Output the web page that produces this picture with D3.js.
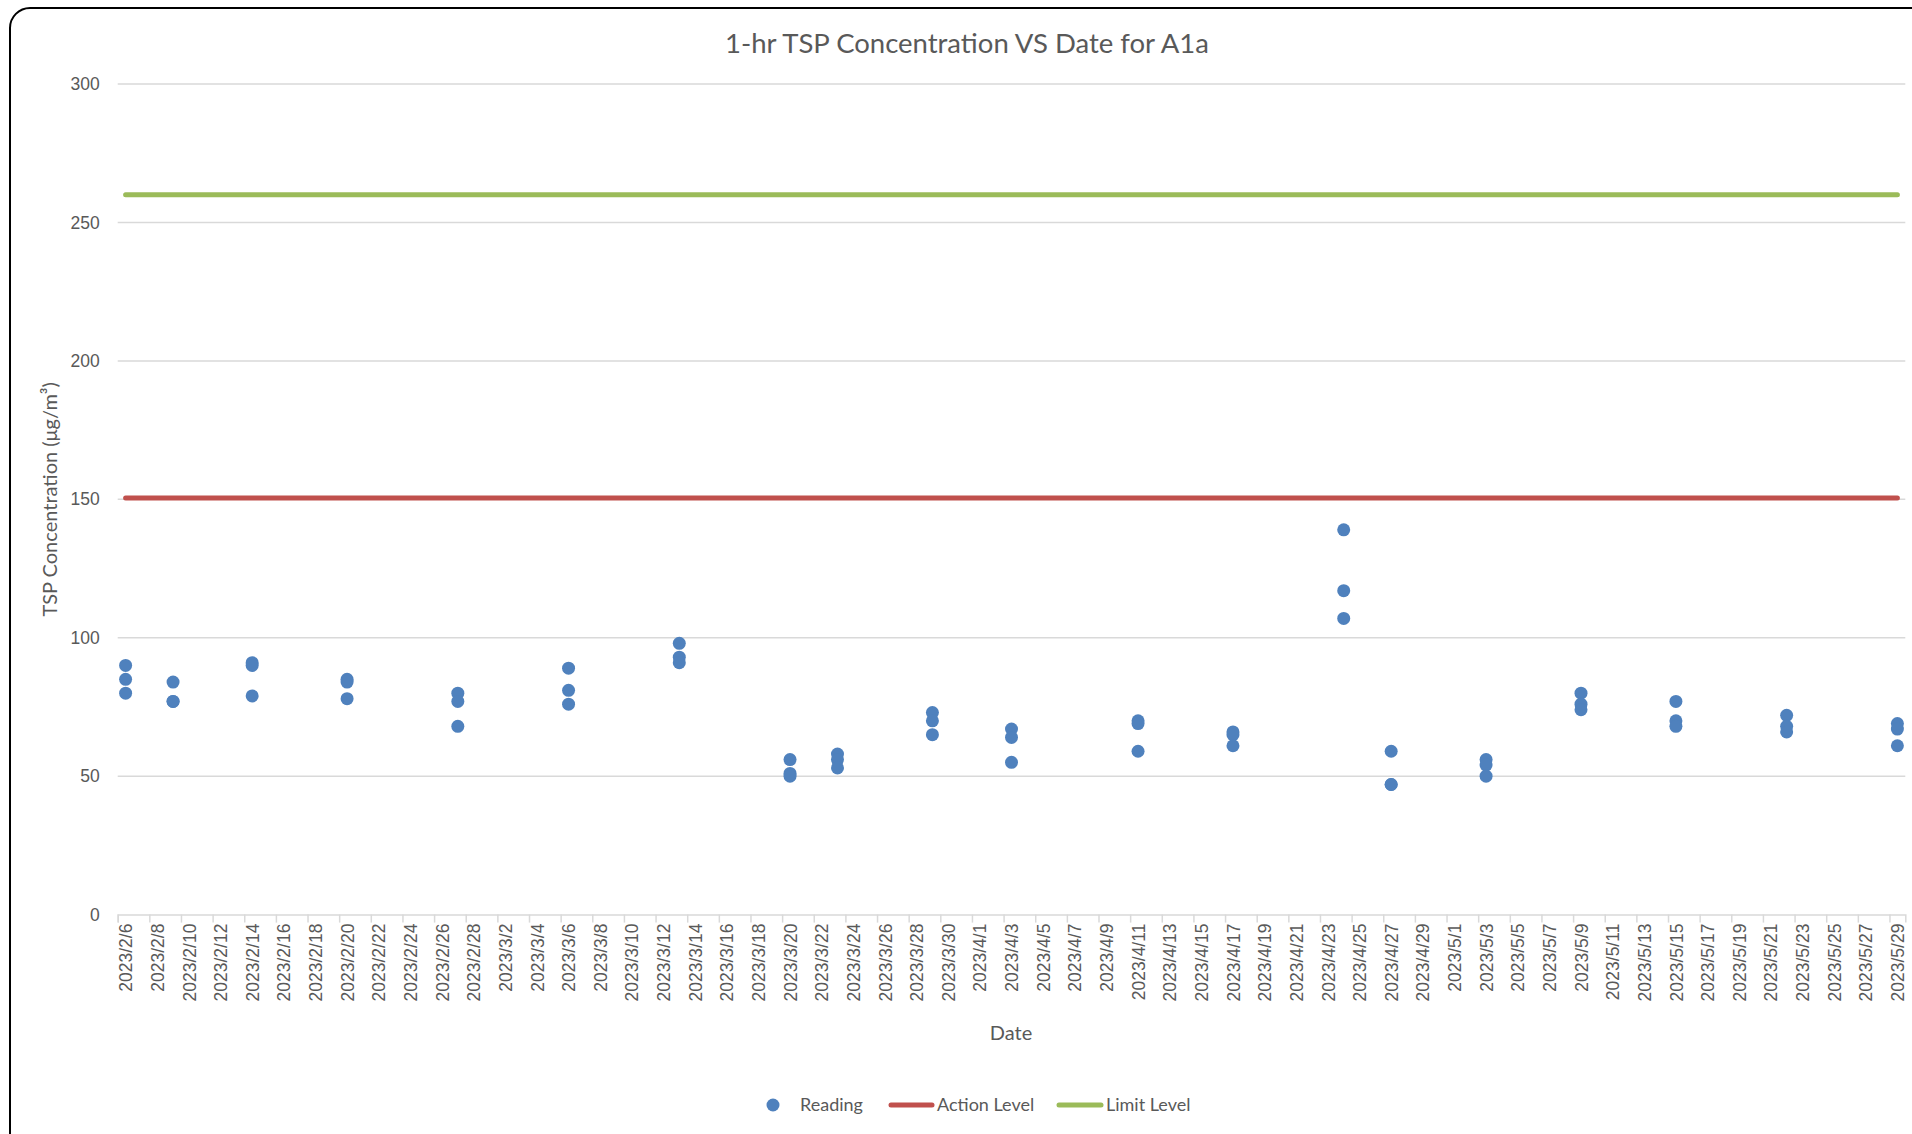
<!DOCTYPE html>
<html>
<head>
<meta charset="utf-8">
<script src="https://cdn.jsdelivr.net/npm/d3@7"></script>
<style>
  body { margin: 0; background: #fff; }
  svg { display: block; font-family: Lato, "Open Sans", sans-serif; }
</style>
</head>
<body>
<svg id="chart" width="1912" height="1134"></svg>
<script>
// sampling days and the three 1-hr readings taken on each
var sampleDates = ["2023/2/6", "2023/2/9", "2023/2/14", "2023/2/20", "2023/2/27", "2023/3/6", "2023/3/13",
	"2023/3/20", "2023/3/23", "2023/3/29", "2023/4/3", "2023/4/11", "2023/4/17", "2023/4/24",
	"2023/4/27", "2023/5/3", "2023/5/9", "2023/5/15", "2023/5/22", "2023/5/29"];
var readingA = [90, 84, 91, 85, 80, 89, 98, 56, 58, 73, 67, 70, 66, 139, 59, 56, 80, 77, 72, 69];
var readingB = [85, 77, 90, 84, 77, 81, 93, 51, 56, 70, 64, 69, 65, 117, 47, 54, 76, 70, 68, 67];
var readingC = [80, 77, 79, 78, 68, 76, 91, 50, 53, 65, 55, 59, 61, 107, 47, 50, 74, 68, 66, 61];

var actionLevel = 150.5;
var limitLevel = 260;

var yTicks = [0, 50, 100, 150, 200, 250, 300];
var axisStart = "2023/2/6";
var axisEnd = "2023/5/30";

var svg = d3.select("#chart");
var parse = d3.timeParse("%Y/%m/%d");
var fmt = d3.timeFormat("%Y/%-m/%-d");

// note: "top" is a read-only global, so keep these names distinct
var plotLeft = 117.7, plotRight = 1905.3, plotTop = 84.1, plotBottom = 914.6;
var textColor = "#595959";

var x = d3.scaleTime()
	.domain([parse(axisStart), parse(axisEnd)])
	.range([plotLeft, plotRight]);
var y = d3.scaleLinear()
	.domain([0, 300])
	.range([plotBottom, plotTop]);

// points sit in the middle of their day slot
function mid(d) {
	return x(d3.timeHour.offset(d, 12));
}
var halfDay = (x(parse("2023/2/7")) - x(parse("2023/2/6"))) / 2;

// card border
svg.append("rect")
	.attr("x", 10).attr("y", 8)
	.attr("width", 1925).attr("height", 1160)
	.attr("rx", 20)
	.attr("fill", "#fff")
	.attr("stroke", "#000")
	.attr("stroke-width", 2);

// title
svg.append("text")
	.attr("x", 967).attr("y", 53)
	.attr("text-anchor", "middle")
	.attr("fill", textColor)
	.style("font-size", "27.5px")
	.text("1-hr TSP Concentration VS Date for A1a");

// gridlines
svg.append("g")
	.selectAll("line")
	.data(yTicks.filter(function(d) { return d > 0; }))
	.enter().append("line")
	.attr("x1", plotLeft).attr("x2", plotRight)
	.attr("y1", function(d) { return y(d); })
	.attr("y2", function(d) { return y(d); })
	.attr("stroke", "#d9d9d9")
	.attr("stroke-width", 1.5);

// y axis labels
var yAxis = svg.append("g")
	.attr("transform", "translate(" + plotLeft + ",0)")
	.call(d3.axisLeft(y).tickValues(yTicks).tickSize(0).tickPadding(18));
yAxis.select(".domain").remove();
yAxis.selectAll("text")
	.attr("fill", textColor)
	.style("font-size", "17.5px");

// x axis, tick every 2 days
var xTicks = d3.timeDay.range(parse(axisStart), parse(axisEnd), 2);
var xAxis = svg.append("g")
	.attr("transform", "translate(0," + plotBottom + ")")
	.call(d3.axisBottom(x).tickValues(xTicks).tickSize(8).tickFormat(fmt));
xAxis.select(".domain")
	.attr("stroke", "#d9d9d9")
	.attr("stroke-width", 1.5);
xAxis.selectAll(".tick line")
	.attr("stroke", "#d9d9d9")
	.attr("stroke-width", 1.5);
xAxis.selectAll(".tick text")
	.attr("fill", textColor)
	.style("font-size", "17.5px")
	.attr("text-anchor", "end")
	.attr("y", 0)
	.attr("dy", "0.35em")
	.attr("transform", "translate(" + halfDay + ",9) rotate(-90)");

// axis titles
svg.append("text")
	.attr("x", 1011).attr("y", 1040)
	.attr("text-anchor", "middle")
	.attr("fill", textColor)
	.style("font-size", "20px")
	.text("Date");

svg.append("text")
	.attr("transform", "translate(57," + ((plotTop + plotBottom) / 2) + ") rotate(-90)")
	.attr("text-anchor", "middle")
	.attr("fill", textColor)
	.style("font-size", "20px")
	.text("TSP Concentration (μg/m³)");

// level lines
var span = d3.extent(sampleDates, parse);
var levels = [
	{ value: limitLevel, color: "#9bbb59" },
	{ value: actionLevel, color: "#c0504d" }
];
svg.append("g")
	.selectAll("line")
	.data(levels)
	.enter().append("line")
	.attr("x1", mid(span[0]))
	.attr("x2", mid(span[1]))
	.attr("y1", function(d) { return y(d.value); })
	.attr("y2", function(d) { return y(d.value); })
	.attr("stroke", function(d) { return d.color; })
	.attr("stroke-width", 5)
	.attr("stroke-linecap", "round");

// readings
var points = [];
sampleDates.forEach(function(s, i) {
	[readingA[i], readingB[i], readingC[i]].forEach(function(v) {
		points.push({ date: parse(s), value: v });
	});
});
svg.append("g")
	.selectAll("circle")
	.data(points)
	.enter().append("circle")
	.attr("cx", function(d) { return mid(d.date); })
	.attr("cy", function(d) { return y(d.value); })
	.attr("r", 6.5)
	.attr("fill", "#4f81bd");

// legend
var legend = svg.append("g").style("font-size", "18px").attr("fill", textColor);
legend.append("circle")
	.attr("cx", 773).attr("cy", 1105).attr("r", 6.5)
	.attr("fill", "#4f81bd");
legend.append("text").attr("x", 800).attr("y", 1111).text("Reading");
legend.append("line")
	.attr("x1", 891).attr("x2", 932).attr("y1", 1105).attr("y2", 1105)
	.attr("stroke", "#c0504d").attr("stroke-width", 5).attr("stroke-linecap", "round");
legend.append("text").attr("x", 937).attr("y", 1111).text("Action Level");
legend.append("line")
	.attr("x1", 1059).attr("x2", 1101).attr("y1", 1105).attr("y2", 1105)
	.attr("stroke", "#9bbb59").attr("stroke-width", 5).attr("stroke-linecap", "round");
legend.append("text").attr("x", 1106).attr("y", 1111).text("Limit Level");
</script>
</body>
</html>
